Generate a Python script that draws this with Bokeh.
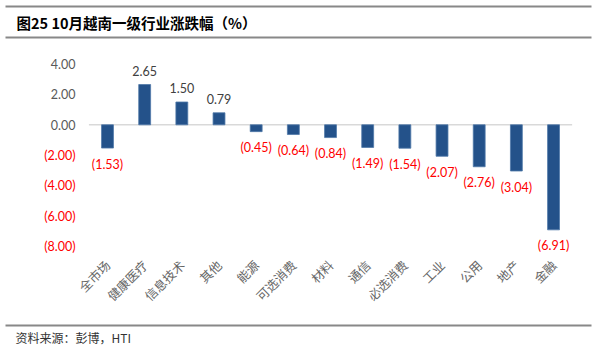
import math
from bokeh.plotting import figure
from bokeh.models import Range1d, Label, BoxAnnotation, ColumnDataSource
from bokeh.core.properties import value
from bokeh.embed import file_html
from bokeh.resources import INLINE

categories = ["全市场", "健康医疗", "信息技术", "其他", "能源", "可选消费", "材料",
              "通信", "必选消费", "工业", "公用", "地产", "金融"]
returns = [-1.53, 2.65, 1.50, 0.79, -0.45, -0.64, -0.84, -1.49, -1.54, -2.07, -2.76, -3.04, -6.91]
y_ticks = [4, 2, 0, -2, -4, -6, -8]
y_tick_labels = ["4.00", "2.00", "0.00", "(2.00)", "(4.00)", "(6.00)", "(8.00)"]
title_text = "图25 10月越南一级行业涨跌幅（%）"
source_text = "资料来源：彭博，HTI"

W, H = 609, 351
PX_PER_CAT = 37.17
X0_PX = 107.0
ZERO_PX = 124.3
PX_PER_UNIT = 15.2

x_start = -X0_PX / PX_PER_CAT
x_end = (W - X0_PX) / PX_PER_CAT
y_end = ZERO_PX / PX_PER_UNIT
y_start = -(H - ZERO_PX) / PX_PER_UNIT

p = figure(width=W, height=H, output_backend="svg", toolbar_location=None,
           x_range=Range1d(x_start, x_end), y_range=Range1d(y_start, y_end),
           min_border=0, min_border_left=0, min_border_right=0,
           min_border_top=0, min_border_bottom=0)
p.axis.visible = False
p.grid.visible = False
p.outline_line_color = None
p.background_fill_color = "white"
p.border_fill_color = "white"

idx = list(range(len(categories)))
pos_color = "#404040"
neg_color = "#ff0000"

# zero line
p.segment(x0=[-0.5], y0=[0], x1=[len(categories) - 0.5], y1=[0], line_color="#d9d9d9", line_width=1.5)

src = ColumnDataSource(dict(
    x=idx, top=returns, bottom=[0] * len(returns),
    label=[f"{v:.2f}" if v >= 0 else f"({abs(v):.2f})" for v in returns],
    color=[pos_color if v >= 0 else neg_color for v in returns],
    yoff=[-14 if v >= 0 else 16 for v in returns],
))
p.vbar(x="x", top="top", bottom="bottom", width=0.32, source=src,
       fill_color="#24528a", line_color="#4f78a8", line_width=0.8)
p.text(x="x", y="top", text="label", text_color="color", y_offset="yoff", source=src,
       text_font=value("Lato"), text_font_size="12.5px", text_align="center",
       text_baseline="middle")

# y tick labels
ysrc = ColumnDataSource(dict(
    x=[-0.86] * len(y_ticks), y=y_ticks, t=y_tick_labels,
    c=["#595959" if v >= 0 else neg_color for v in y_ticks]))
p.text(x="x", y="y", text="t", text_color="c", source=ysrc,
       text_font=value("Lato"), text_font_size="12.5px", text_align="right",
       text_baseline="middle")

# category labels (rotated)
cat_y = -(262 - ZERO_PX) / PX_PER_UNIT
p.text(x=[i + 0.0 for i in idx], y=[cat_y] * len(idx), text=categories,
       angle=math.pi / 4, text_color="#666666", text_font=value("Noto Sans CJK SC"),
       text_font_size="12.5px", text_align="right", text_baseline="middle")

# decorative rules
for top_px in (5, 36, 324):
    p.add_layout(BoxAnnotation(left=5, right=591, top=H - top_px, bottom=H - top_px - 2,
                               left_units="screen", right_units="screen",
                               top_units="screen", bottom_units="screen",
                               fill_color="#888888", fill_alpha=1, line_color=None))

p.add_layout(Label(x=16, y=H - 22, x_units="screen", y_units="screen", text=title_text,
                   text_font="Noto Sans CJK SC", text_font_style="bold",
                   text_font_size="14.5px", text_color="#000000", text_baseline="middle"))
p.add_layout(Label(x=15, y=H - 337, x_units="screen", y_units="screen", text=source_text,
                   text_font="Noto Sans CJK SC", text_font_size="12px",
                   text_color="#333333", text_baseline="middle"))

open("out.html", "w").write(file_html(p, INLINE))
